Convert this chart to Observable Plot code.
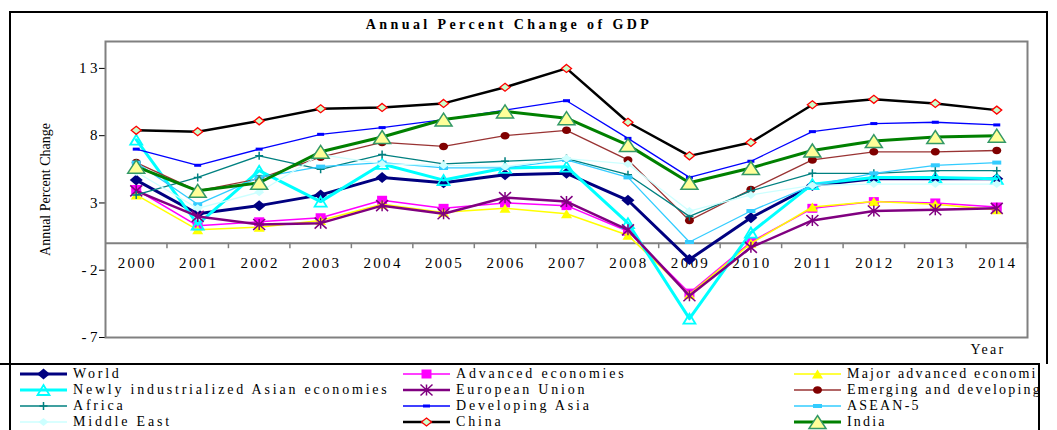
<!DOCTYPE html>
<html>
<head>
<meta charset="utf-8">
<script src="https://cdn.jsdelivr.net/npm/d3@7"></script>
<script src="https://cdn.jsdelivr.net/npm/@observablehq/plot@0.6"></script>
<style>
  html, body { margin: 0; padding: 0; background: #fff; }
  #wrap { position: relative; width: 1057px; height: 430px; overflow: hidden; background: #fff;
          font-family: "Liberation Serif", "Times New Roman", serif; color: #000; }
  #title { position: absolute; top: 17px; left: 0; width: 1018px; text-align: center;
           font-weight: bold; font-size: 14px; line-height: 16px; letter-spacing: 3.4px; }
  #chart { position: absolute; top: 34px; left: 0; }
  #legend { position: absolute; top: 363px; left: 0; width: 1038px; height: 100px; background: #fff;
            border-top: 2px solid #000; border-right: 2px solid #000; overflow: hidden; }
  .item { position: absolute; height: 16px; display: flex; align-items: center; white-space: nowrap;
          font-size: 14px; line-height: 16px; letter-spacing: 2.8px; }
  .item.c2 { letter-spacing: 2.2px; }
  .item span { margin-left: 6px; }
  .vline { position: absolute; background: #000; }
</style>
</head>
<body>
<div id="wrap">
  <div class="vline" style="left:9px; top:11px; width:1039px; height:2px;"></div>
  <div class="vline" style="left:1046px; top:11px; width:2px; height:353px;"></div>
  <div id="title">Annual Percent Change of GDP</div>
  <div id="chart"></div>
  <div id="legend"></div>
  <div class="vline" style="left:9px; top:11px; width:2px; height:430px;"></div>
</div>
<script>
// ---------- data ----------
const years = [2000, 2001, 2002, 2003, 2004, 2005, 2006, 2007, 2008, 2009, 2010, 2011, 2012, 2013, 2014];
const yTicks = [13, 8, 3, -2, -7];

const world      = [4.7, 2.2, 2.8, 3.6, 4.9, 4.5, 5.1, 5.2, 3.2, -1.2, 1.9, 4.3, 4.8, 4.8, 4.8];
const advanced   = [4.0, 1.3, 1.6, 1.9, 3.2, 2.6, 3.0, 2.8, 0.9, -3.7, 0.1, 2.6, 3.1, 3.0, 2.7];
const major      = [3.6, 1.0, 1.2, 1.7, 2.9, 2.3, 2.6, 2.2, 0.6, -3.8, 0.0, 2.7, 3.1, 2.9, 2.5];
const niae       = [7.7, 1.4, 5.4, 3.1, 5.9, 4.7, 5.6, 5.7, 1.5, -5.6, 0.8, 4.4, 4.9, 4.9, 4.8];
const eu         = [3.9, 2.0, 1.4, 1.5, 2.8, 2.2, 3.4, 3.1, 1.0, -3.9, -0.3, 1.7, 2.4, 2.5, 2.6];
const emerging   = [6.0, 3.9, 4.8, 6.4, 7.5, 7.2, 8.0, 8.4, 6.2, 1.7, 4.0, 6.2, 6.8, 6.8, 6.9];
const africa     = [3.6, 4.9, 6.5, 5.5, 6.6, 5.9, 6.1, 6.3, 5.1, 2.0, 3.9, 5.2, 5.2, 5.4, 5.4];
const devAsia    = [7.0, 5.8, 7.0, 8.1, 8.6, 9.2, 9.9, 10.6, 7.8, 4.9, 6.1, 8.3, 8.9, 9.0, 8.8];
const asean      = [6.0, 2.9, 4.9, 5.7, 6.0, 5.6, 5.6, 6.2, 4.9, 0.1, 2.4, 4.3, 5.2, 5.8, 6.0];
const middleEast = [5.3, 2.6, 3.8, 6.6, 5.9, 5.8, 5.7, 6.3, 5.9, 2.4, 3.6, 4.3, 4.4, 4.4, 4.4];
const china      = [8.4, 8.3, 9.1, 10.0, 10.1, 10.4, 11.6, 13.0, 9.0, 6.5, 7.5, 10.3, 10.7, 10.4, 9.9];
const india      = [5.7, 3.9, 4.5, 6.8, 7.9, 9.2, 9.8, 9.3, 7.3, 4.5, 5.6, 6.9, 7.6, 7.9, 8.0];

// ---------- marker shapes ----------
function diamond(w, h) { return { draw(c) { c.moveTo(0, -h/2); c.lineTo(w/2, 0); c.lineTo(0, h/2); c.lineTo(-w/2, 0); c.closePath(); } }; }
function rect(w, h) { return { draw(c) { c.rect(-w/2, -h/2, w, h); } }; }
function tri(w, h) { return { draw(c) { c.moveTo(0, -h/2); c.lineTo(w/2, h/2); c.lineTo(-w/2, h/2); c.closePath(); } }; }
function ellipse(w, h) {
  const k = 0.5523, a = w/2, b = h/2;
  return { draw(c) {
    c.moveTo(a, 0);
    c.bezierCurveTo(a, b*k, a*k, b, 0, b);
    c.bezierCurveTo(-a*k, b, -a, b*k, -a, 0);
    c.bezierCurveTo(-a, -b*k, -a*k, -b, 0, -b);
    c.bezierCurveTo(a*k, -b, a, -b*k, a, 0);
    c.closePath();
  } };
}
function plus(w) { return { draw(c) { c.moveTo(-w/2, 0); c.lineTo(w/2, 0); c.moveTo(0, -w/2); c.lineTo(0, w/2); } }; }
function star(w, h) { return { draw(c) {
  c.moveTo(0, -h/2); c.lineTo(0, h/2);
  c.moveTo(-w/2, -h/2); c.lineTo(w/2, h/2);
  c.moveTo(w/2, -h/2); c.lineTo(-w/2, h/2);
} }; }

// ---------- series styles ----------
const series = [
  {name: "World", values: world, line: "#000080", lw: 3, sym: diamond(13, 11), fill: "#000080", stroke: "none", sw: 0},
  {name: "Advanced economies", values: advanced, line: "#FF00FF", lw: 1.5, sym: rect(10, 9), fill: "#FF00FF", stroke: "none", sw: 0},
  {name: "Major advanced economies", values: major, line: "#FFFF00", lw: 1.5, sym: tri(11, 9), fill: "#FFFF00", stroke: "none", sw: 0},
  {name: "Newly industrialized Asian economies", values: niae, line: "#00FFFF", lw: 3, sym: tri(12, 10), fill: "none", stroke: "#00FFFF", sw: 1.8},
  {name: "European Union", values: eu, line: "#800080", lw: 2.5, sym: star(12, 11), fill: "none", stroke: "#800080", sw: 1.5},
  {name: "Emerging and developing economies", values: emerging, line: "#993333", lw: 1.3, sym: ellipse(9, 7.5), fill: "#800000", stroke: "none", sw: 0},
  {name: "Africa", values: africa, line: "#008080", lw: 1.3, sym: plus(8), fill: "none", stroke: "#008080", sw: 1.5},
  {name: "Developing Asia", values: devAsia, line: "#0000FF", lw: 1.3, sym: rect(7, 3), fill: "#0000FF", stroke: "none", sw: 0},
  {name: "ASEAN-5", values: asean, line: "#33CCFF", lw: 1.3, sym: rect(9, 4), fill: "#33CCFF", stroke: "none", sw: 0},
  {name: "Middle East", values: middleEast, line: "#CCFFFF", lw: 1.3, sym: diamond(10, 8), fill: "#CCFFFF", stroke: "none", sw: 0},
  {name: "China", values: china, line: "#000000", lw: 2.5, sym: diamond(10, 8), fill: "#CCFFCC", stroke: "#FF0000", sw: 1.3},
  {name: "India", values: india, line: "#008000", lw: 3, sym: tri(17, 13), fill: "#FFFF99", stroke: "#339966", sw: 1.5}
];

const rows = s => years.map((yr, i) => ({year: yr, value: s.values[i], series: s.name}));
const boundaries = years.map(y => y + 0.5);

const seriesMarks = series.flatMap(s => [
  Plot.line(rows(s), {x: "year", y: "value", stroke: s.line, strokeWidth: s.lw, strokeLinejoin: "round"}),
  Plot.dot(rows(s), {x: "year", y: "value", symbol: s.sym, r: 3, fill: s.fill, stroke: s.stroke, strokeWidth: s.sw})
]);

const svg = Plot.plot({
  width: 1057, height: 330,
  marginTop: 7, marginBottom: 27, marginLeft: 105, marginRight: 30,
  style: {fontFamily: "'Liberation Serif', 'Times New Roman', serif", fontSize: "15px", color: "#000", background: "transparent", overflow: "visible"},
  x: {domain: [1999.5, 2014.5], axis: null},
  y: {domain: [-7, 15]},
  marks: [
    Plot.ruleY([0], {stroke: "#808080", strokeWidth: 2}),
    Plot.ruleX(boundaries, {x: d => d, y1: 0, y2: -0.4, stroke: "#808080", strokeWidth: 1.5}),
    Plot.axisY({ticks: yTicks, tickSize: 6, tickFormat: () => "", label: null}),
    Plot.text(yTicks, {y: d => d, frameAnchor: "left", textAnchor: "end", dx: -4.5, text: d => String(d), fontSize: 15}),
    Plot.text(years, {x: d => d, y: 0, dy: 20, dx: 1, text: d => String(d), fontSize: 15}),
    ...seriesMarks,
    Plot.frame({stroke: "#808080", strokeWidth: 2}),
    Plot.text(["Annual Percent Change"], {frameAnchor: "left", textAnchor: "middle", dx: -60, rotate: -90, fontSize: 14}),
    Plot.text(["Year"], {frameAnchor: "bottom-right", dx: -22, dy: 16, textAnchor: "end", fontSize: 14})
  ]
});
document.getElementById("chart").appendChild(svg);

const sel = d3.select(svg);
sel.selectAll("text").style("letter-spacing", "2.3px");
sel.selectAll("text").filter(function() { return yTicks.map(String).includes(this.textContent); })
  .style("letter-spacing", "3.5px");
sel.selectAll("text").filter(function() { return this.textContent === "Annual Percent Change"; })
  .style("letter-spacing", "0px");

// ---------- legend ----------
const legendOrder = [
  ["World", "Advanced economies", "Major advanced economies"],
  ["Newly industrialized Asian economies", "European Union", "Emerging and developing economies"],
  ["Africa", "Developing Asia", "ASEAN-5"],
  ["Middle East", "China", "India"]
];
const colLeft = [20, 403, 794];
const legend = document.getElementById("legend");
legendOrder.forEach((row, r) => {
  row.forEach((name, c) => {
    const s = series.find(d => d.name === name);
    const item = document.createElement("div");
    item.className = "item c" + c;
    item.style.left = colLeft[c] + "px";
    item.style.top = (1 + 16 * r) + "px";
    const ls = d3.create("svg").attr("width", 47).attr("height", 16);
    ls.append("line").attr("x1", 0).attr("x2", 47).attr("y1", 8).attr("y2", 8)
      .attr("stroke", s.line).attr("stroke-width", s.lw);
    ls.append("path").attr("d", d3.symbol(s.sym, 10)()).attr("transform", "translate(23.5,8)")
      .attr("fill", s.fill).attr("stroke", s.stroke).attr("stroke-width", s.sw);
    item.appendChild(ls.node());
    const sp = document.createElement("span");
    sp.textContent = name;
    item.appendChild(sp);
    legend.appendChild(item);
  });
});
</script>
</body>
</html>
